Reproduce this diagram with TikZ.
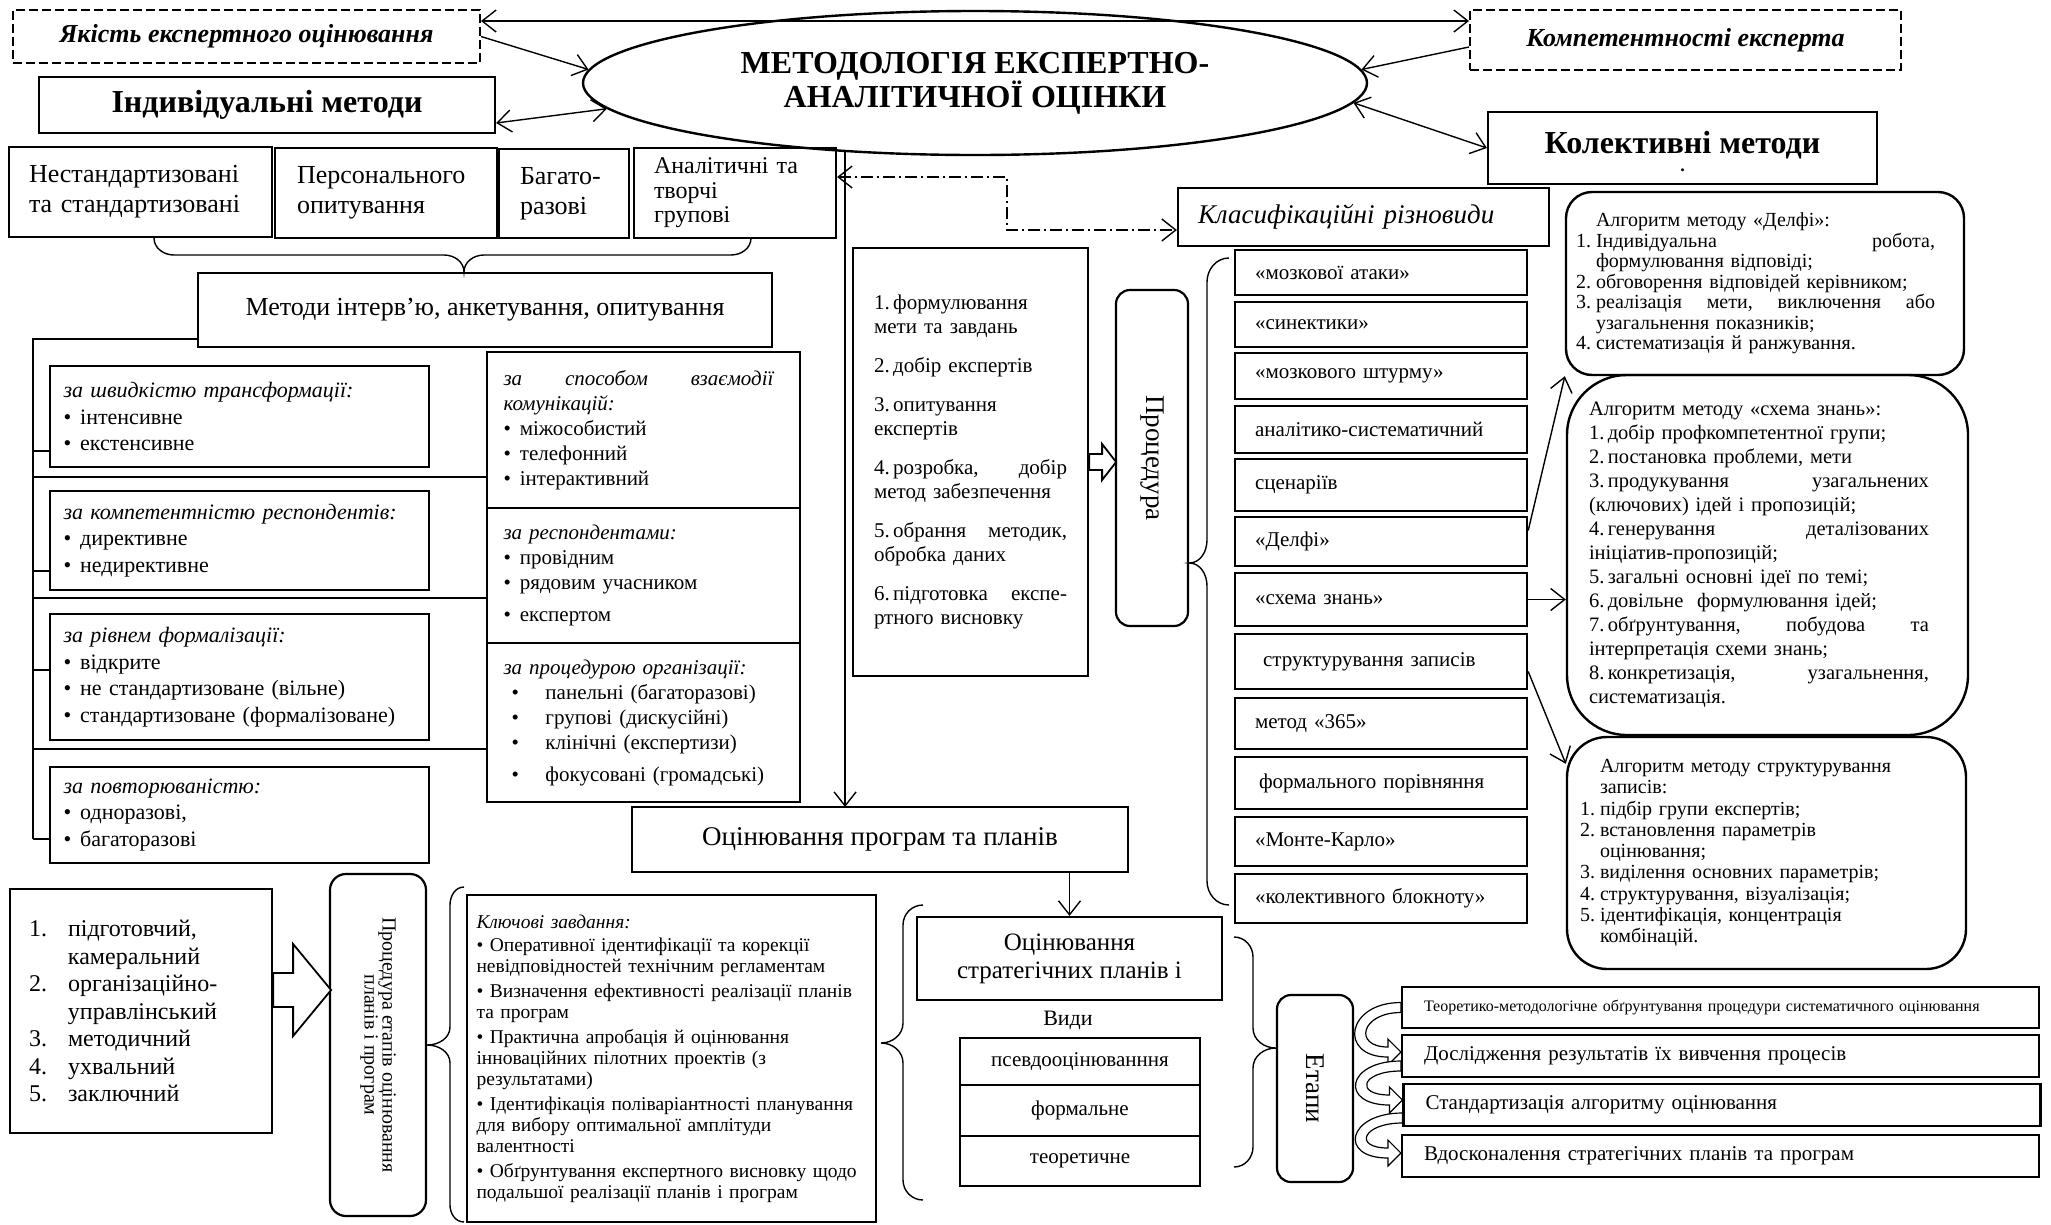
\documentclass[tikz,border=0pt]{standalone}
\usepackage{fontspec}
\setmainfont{Liberation Serif}
\usetikzlibrary{positioning, arrows.meta, shapes.geometric, calc}
\tikzstyle{box} = [draw, line width=2.2pt, inner sep=0pt, align=left]
\tikzstyle{cbox} = [draw, line width=2.2pt, inner sep=0pt, align=center]
\tikzstyle{dashbox} = [draw, line width=2pt, dash pattern=on 9pt off 4pt, inner sep=0pt, align=center, font=\fontsize{26}{30}\selectfont\bfseries\itshape]
\tikzstyle{roundbox} = [draw, line width=2.4pt, inner sep=0pt, align=left]
\tikzstyle{lbox} = [box, minimum width=379, text width=352, font=\fontsize{22}{26.5}\selectfont]
\tikzstyle{rbox} = [box, minimum width=313, text width=280, font=\fontsize{21}{25}\selectfont]
\tikzstyle{listbox} = [box, line width=2.4pt, minimum width=292, text width=252, font=\fontsize{21}{24}\selectfont]
\tikzstyle{kindbox} = [cbox, line width=2.6pt, minimum width=240, font=\fontsize{21}{24}\selectfont]
\tikzstyle{stagebox} = [box, minimum width=637, minimum height=42, text width=593, font=\fontsize{21}{24}\selectfont]
\tikzstyle{arrow} = [line width=1.4pt, -{Straight Barb[length=14pt,width=22pt]}]
\tikzstyle{darrow} = [line width=1.4pt, {Straight Barb[length=14pt,width=22pt]}-{Straight Barb[length=14pt,width=22pt]}]
\tikzstyle{dotarrow} = [darrow, dash pattern=on 12pt off 4pt on 2pt off 4pt]
\tikzstyle{brace} = [line width=1.4pt]
\tikzstyle{blockarrow} = [line width=1.8pt, fill=white, line join=miter]
\tikzstyle{bentarrow} = [line width=1.2pt, fill=white]

\begin{document}
\begin{tikzpicture}[x=1pt, y=-1pt]
\useasboundingbox (0,0) rectangle (2051,1224);

% Methodology and its neighbours
\node[dashbox, minimum width=467, minimum height=53] (quality) at (246.5,36.5) {Якість експертного оцінювання};
\node[dashbox, minimum width=431, minimum height=60] (competence) at (1685.5,40) {Компетентності експерта};
\node[draw, ellipse, line width=2.4pt, minimum width=784, minimum height=144, inner sep=0pt, align=center, font=\fontsize{32}{34}\selectfont\bfseries] (method) at (975,83) {МЕТОДОЛОГІЯ ЕКСПЕРТНО-\\АНАЛІТИЧНОЇ ОЦІНКИ};
\node[cbox, minimum width=456, minimum height=56, font=\fontsize{32}{34}\selectfont\bfseries] (individual) at (267,105) {Індивідуальні методи};
\node[cbox, minimum width=389, minimum height=72, text depth=12, font=\fontsize{32}{34}\selectfont\bfseries, label={[font=\fontsize{18}{18}\selectfont\bfseries, yshift=-22]center:.}] (collective) at (1682.5,148) {Колективні методи};
\coordinate (qtop) at ([yshift=15.5]quality.east);
\draw[darrow] (qtop) -- (qtop -| competence.west);
\draw[arrow] (quality.east) -- (method.178);
\draw[darrow] ([yshift=-18]individual.east) -- (method.184);
\draw[arrow] ([yshift=-7]competence.west) -- (method.2);
\draw[darrow] (method.357) -- (collective.west);

% Individual methods
\node[box, minimum width=263, minimum height=90, text width=223, font=\fontsize{26}{30}\selectfont] (nonstd) at (140.5,192) {Нестандартизовані\\та стандартизовані};
\node[box, minimum width=222, minimum height=90, text width=178, font=\fontsize{26}{30}\selectfont] (personal) at (386,193) {Персонального\\опитування};
\node[box, minimum width=130, minimum height=89, text width=88, font=\fontsize{26}{30}\selectfont] (multiple) at (564,193.5) {Багато-\\разові};
\node[box, minimum width=202, minimum height=90, text width=162, font=\fontsize{24}{24.5}\selectfont] (creative) at (735,193) {Аналітичні та\\творчі\\групові};
\draw[brace] (154,238) to[out=-90,in=180] (174,255) -- (444,255) to[out=0,in=90] (464,272) to[out=90,in=180] (484,255) -- (731,255) to[out=0,in=-90] (751,238);
\node[cbox, minimum width=574, minimum height=74, font=\fontsize{26}{30}\selectfont] (survey) at (485,310) {Методи інтерв’ю, анкетування, опитування};

% Survey classification
\node[lbox, minimum height=101] (lspeed) at (239.5,416.5) {\textit{за швидкістю трансформації:}\\\textbullet\hspace{9pt}інтенсивне\\\textbullet\hspace{9pt}екстенсивне};
\node[lbox, minimum height=99] (lcomp) at (239.5,540.5) {\textit{за компетентністю респондентів:}\\\textbullet\hspace{9pt}директивне\\\textbullet\hspace{9pt}недирективне};
\node[lbox, minimum height=126] (lformal) at (239.5,677) {\textit{за рівнем формалізації:}\\\textbullet\hspace{9pt}відкрите\\\textbullet\hspace{9pt}не стандартизоване (вільне)\\\textbullet\hspace{9pt}стандартизоване (формалізоване)};
\node[lbox, minimum height=96] (lrepeat) at (239.5,815) {\textit{за повторюваністю:}\\\textbullet\hspace{9pt}одноразові,\\\textbullet\hspace{9pt}багаторазові};
\node[rbox, minimum height=156] (rcomm) at (643.5,430) {\leavevmode\hbox to 270pt{\itshape за\hfill способом\hfill взаємодії}\\\textit{комунікацій:}\\\textbullet\hspace{9pt}міжособистий\\\textbullet\hspace{9pt}телефонний\\\textbullet\hspace{9pt}інтерактивний};
\node[rbox, minimum height=135] (rresp) at (643.5,575.5) {\textit{за респондентами:}\\\textbullet\hspace{9pt}провідним\\\textbullet\hspace{9pt}рядовим учасником\\[7pt]\textbullet\hspace{9pt}експертом};
\node[rbox, minimum height=159] (rproc) at (643.5,722.5) {\textit{за процедурою організації:}\\\makebox[42pt][l]{\hspace{8pt}\textbullet}панельні (багаторазові)\\\makebox[42pt][l]{\hspace{8pt}\textbullet}групові (дискусійні)\\\makebox[42pt][l]{\hspace{8pt}\textbullet}клінічні (експертизи)\\[7pt]\makebox[42pt][l]{\hspace{8pt}\textbullet}фокусовані (громадські)};
\coordinate (trunk) at (33,839);
\draw[brace] ([yshift=9]survey.south west) -| (trunk);
\draw[brace] (trunk |- 0,477) -- (rcomm.west |- 0,477);
\draw[brace] (trunk |- 0,598) -- (rresp.west |- 0,598);
\draw[brace] (trunk |- 0,749) -- (rproc.west |- 0,749);
\draw[brace] (trunk |- 0,451) -- (lspeed.west |- 0,451);
\draw[brace] (trunk |- 0,571) -- (lcomp.west |- 0,571);
\draw[brace] (trunk |- 0,670) -- (lformal.west |- 0,670);
\draw[brace] (trunk) -- (lrepeat.west |- trunk);

% Procedure
\node[box, minimum width=371, minimum height=58, text width=331, font=\fontsize{27}{30}\selectfont\itshape] (classif) at (1363.5,217) {Класифікаційні різновиди};
\draw[dotarrow] ([yshift=16]creative.east) -- ++(170,0) |- ([yshift=-13]classif.west);
\node[box, minimum width=235, minimum height=428, text width=193, font=\fontsize{21}{24}\selectfont] (steps) at (970.5,462) {1.\,формулювання\\мети та завдань\\[15pt]2.\,добір експертів\\[15pt]3.\,опитування\\експертів\\[15pt]\leavevmode\hbox to 193pt{4.\,розробка,\hfill добір}\\метод забезпечення\\[15pt]\leavevmode\hbox to 193pt{5.\,обрання\hfill методик,}\\обробка даних\\[15pt]\leavevmode\hbox to 193pt{6.\,підготовка\hfill експе-}\\ртного висновку};
\node[draw, line width=2.2pt, rounded corners=14pt, minimum width=72, minimum height=336, inner sep=0pt, label={[rotate=-90, font=\fontsize{27}{30}\selectfont]center:Процедура}] (proc) at (1152,458) {};
\draw[blockarrow] ($(steps.east)+(0,-8)$) -- ++(13,0) -- ++(0,-10) -- ++(14,18) -- ++(-14,18) -- ++(0,-10) -- ++(-13,0) -- cycle;
\draw[arrow] (method.208) -- (method.208 |- 0,807);
\draw[brace] (1229,258) to[out=180,in=90] (1207,282) -- (1207,540) to[out=-90,in=0] (proc.east |- 0,563) to[out=0,in=90] (1207,586) -- (1207,881) to[out=-90,in=180] (1229,905);

% Collective methods
\node[listbox, minimum height=45] (brainattack) at (1381,272.5) {«мозкової атаки»};
\node[listbox, minimum height=45] (synectics) at (1381,324.5) {«синектики»};
\node[listbox, minimum height=46] (brainstorm) at (1381,376) {«мозкового штурму»};
\node[listbox, minimum height=47] (analytic) at (1381,429.5) {аналітико-систематичний};
\node[listbox, minimum height=52] (scenario) at (1381,485) {сценаріїв};
\node[listbox, minimum height=49] (delphi) at (1381,541.5) {«Делфі»};
\node[listbox, minimum height=53] (knowmap) at (1381,599.5) {«схема знань»};
\node[listbox, minimum height=55] (records) at (1381,661.5) {\hspace*{8pt}структурування записів};
\node[listbox, minimum height=51] (m365) at (1381,723.5) {метод «365»};
\node[listbox, minimum height=52] (formal) at (1381,783) {\hspace*{4pt}формального порівняння};
\node[listbox, minimum height=49] (montecarlo) at (1381,841.5) {«Монте-Карло»};
\node[listbox, minimum height=49] (notebook) at (1381,898.5) {«колективного блокноту»};

% Algorithms
\node[roundbox, rounded corners=26pt, minimum width=398, minimum height=183, text width=378, font=\fontsize{20}{20.5}\selectfont] (algdelphi) at (1765,283.5) {\hspace*{20pt}Алгоритм методу «Делфі»:\\\makebox[20pt][l]{1.}\hbox to 339pt{Індивідуальна\hfill робота,}\\\hspace*{20pt}формулювання відповіді;\\\makebox[20pt][l]{2.}обговорення відповідей керівником;\\\makebox[20pt][l]{3.}\hbox to 339pt{реалізація\hfill мети,\hfill виключення\hfill або}\\\hspace*{20pt}узагальнення показників;\\\makebox[20pt][l]{4.}систематизація й ранжування.};
\node[roundbox, rounded corners=60pt, minimum width=401, minimum height=360, text width=357, font=\fontsize{20.5}{24}\selectfont] (algknowmap) at (1767.5,555) {Алгоритм методу «схема знань»:\\1.\,добір профкомпетентної групи;\\2.\,постановка проблеми, мети\\\leavevmode\hbox to 340pt{3.\,продукування\hfill узагальнених}\\(ключових) ідей і пропозицій;\\\leavevmode\hbox to 340pt{4.\,генерування\hfill деталізованих}\\ініціатив-пропозицій;\\5.\,загальні основні ідеї по темі;\\6.\,довільне\ \ формулювання ідей;\\\leavevmode\hbox to 340pt{7.\,обґрунтування,\hfill побудова\hfill та}\\інтерпретація схеми знань;\\\leavevmode\hbox to 340pt{8.\,конкретизація,\hfill узагальнення,}\\систематизація.};
\node[roundbox, rounded corners=40pt, minimum width=399, minimum height=232, text width=373, font=\fontsize{20}{21.3}\selectfont] (algrecords) at (1766.5,853) {\hspace*{20pt}Алгоритм методу структурування\\\hspace*{20pt}записів:\\\makebox[20pt][l]{1.}підбір групи експертів;\\\makebox[20pt][l]{2.}встановлення параметрів\\\hspace*{20pt}оцінювання;\\\makebox[20pt][l]{3.}виділення основних параметрів;\\\makebox[20pt][l]{4.}структурування, візуалізація;\\\makebox[20pt][l]{5.}ідентифікація, концентрація\\\hspace*{20pt}комбінацій.};
\draw[arrow] ([yshift=11]delphi.east) -- (algdelphi.south west);
\draw[arrow] (knowmap.east) -- (knowmap.east -| algknowmap.west);
\draw[arrow] ([yshift=-10]records.east) -- ([yshift=-28]algrecords.north west);

% Evaluation of programs and plans
\node[cbox, minimum width=496, minimum height=65, font=\fontsize{27}{30}\selectfont] (evalprog) at (880,839.5) {Оцінювання програм та планів};
\node[cbox, minimum width=305, minimum height=83, font=\fontsize{25}{28}\selectfont] (evalstrat) at (1069.5,958.5) {Оцінювання\\стратегічних планів і};
\draw[arrow] (evalstrat.north |- evalprog.south) -- (evalstrat.north);
\node[font=\fontsize{22}{24}\selectfont] (kinds) at (1068,1020) {Види};
\node[kindbox, minimum height=47] (pseudo) at (1080,1061.5) {псевдооцінюванння};
\node[kindbox, minimum height=51] (formalkind) at (1080,1110.5) {формальне};
\node[kindbox, minimum height=50] (theory) at (1080,1161) {теоретичне};

% Stages of the procedure
\node[box, minimum width=262, minimum height=244, text width=224, font=\fontsize{24}{27.5}\selectfont] (phases) at (141,1011) {\makebox[39pt][l]{1.}підготовчий,\\\hspace*{39pt}камеральний\\\makebox[39pt][l]{2.}організаційно-\\\hspace*{39pt}управлінський\\\makebox[39pt][l]{3.}методичний\\\makebox[39pt][l]{4.}ухвальний\\\makebox[39pt][l]{5.}заключний};
\node[draw, line width=2.2pt, rounded corners=16pt, minimum width=96, minimum height=342, inner sep=0pt, label={[rotate=-90, align=center, font=\fontsize{20}{18}\selectfont]center:Процедура етапів оцінювання\\планів і програм}] (procplan) at (378,1045) {};
\draw[blockarrow] ($(phases.east)+(0,-38)$) -- ++(20,0) -- ++(0,-29) -- ++(38,46) -- ++(-38,46) -- ++(0,-29) -- ++(-20,0) -- cycle;
\node[box, minimum width=409, minimum height=327, text width=390, font=\fontsize{19.5}{21}\selectfont] (keytasks) at (671.5,1058.5) {\textit{Ключові завдання:}\\[2pt]\textbullet\ Оперативної ідентифікації та корекції\\невідповідностей технічним регламентам\\[4pt]\textbullet\ Визначення ефективності реалізації планів\\та програм\\[4pt]\textbullet\ Практична апробація й оцінювання\\інноваційних пілотних проектів (з\\результатами)\\[4pt]\textbullet\ Ідентифікація поліваріантності планування\\для вибору оптимальної амплітуди\\валентності\\[4pt]\textbullet\ Обґрунтування експертного висновку щодо\\подальшої реалізації планів і програм};
\draw[brace] (464,887) to[out=180,in=90] (450,905) -- (450,1027) to[out=-90,in=0] (procplan.east |- 0,1045) to[out=0,in=90] (450,1063) -- (450,1205) to[out=-90,in=180] (464,1222);
\draw[brace] (923,905) to[out=180,in=90] (903,925) -- (903,1023) to[out=-90,in=0] (881,1043) to[out=0,in=90] (903,1063) -- (903,1180) to[out=-90,in=180] (923,1200);

% Stages
\node[draw, line width=2.2pt, rounded corners=14pt, minimum width=76, minimum height=187, inner sep=0pt, label={[rotate=-90, font=\fontsize{27}{30}\selectfont]center:Етапи}] (stages) at (1315,1088.5) {};
\draw[brace] (1234,937) to[out=0,in=90] (1253,957) -- (1253,1028) to[out=-90,in=180] (stages.west |- 0,1048) to[out=180,in=90] (1253,1068) -- (1253,1147) to[out=-90,in=0] (1234,1167);
\node[stagebox, minimum height=41, font=\fontsize{16}{18}\selectfont] (stageA) at (1720.5,1007.5) {Теоретико-методологічне обґрунтування процедури систематичного оцінювання};
\node[stagebox] (stageB) at (1720.5,1056) {Дослідження результатів їх вивчення процесів};
\node[stagebox] (stageC) at (1722,1105) {Стандартизація алгоритму оцінювання};
\node[stagebox] (stageD) at (1720.5,1156) {Вдосконалення стратегічних планів та програм};
\draw[bentarrow] ($(stageA.west)+(0,-5)$) .. controls +(-55,0) and +(-50,0) .. ($(stageB.west)+(-13,1)$) -- ++(0,8) -- ($(stageB.west)+(0,-4)$) -- ($(stageB.west)+(-13,-17)$) -- ++(0,8) .. controls +(-35,0) and +(-40,0) .. ($(stageA.west)+(0,5)$) -- cycle;
\draw[bentarrow] ($(stageB.west)+(0,5)$) .. controls +(-55,0) and +(-50,0) .. ($(stageC.west)+(-13,0)$) -- ++(0,8) -- ($(stageC.west)+(0,-5)$) -- ($(stageC.west)+(-13,-18)$) -- ++(0,8) .. controls +(-35,0) and +(-40,0) .. ($(stageB.west)+(0,15)$) -- cycle;
\draw[bentarrow] ($(stageC.west)+(0,8)$) .. controls +(-55,0) and +(-50,0) .. ($(stageD.west)+(-13,2)$) -- ++(0,8) -- ($(stageD.west)+(0,-3)$) -- ($(stageD.west)+(-13,-16)$) -- ++(0,8) .. controls +(-35,0) and +(-40,0) .. ($(stageC.west)+(0,18)$) -- cycle;
\end{tikzpicture}
\end{document}
